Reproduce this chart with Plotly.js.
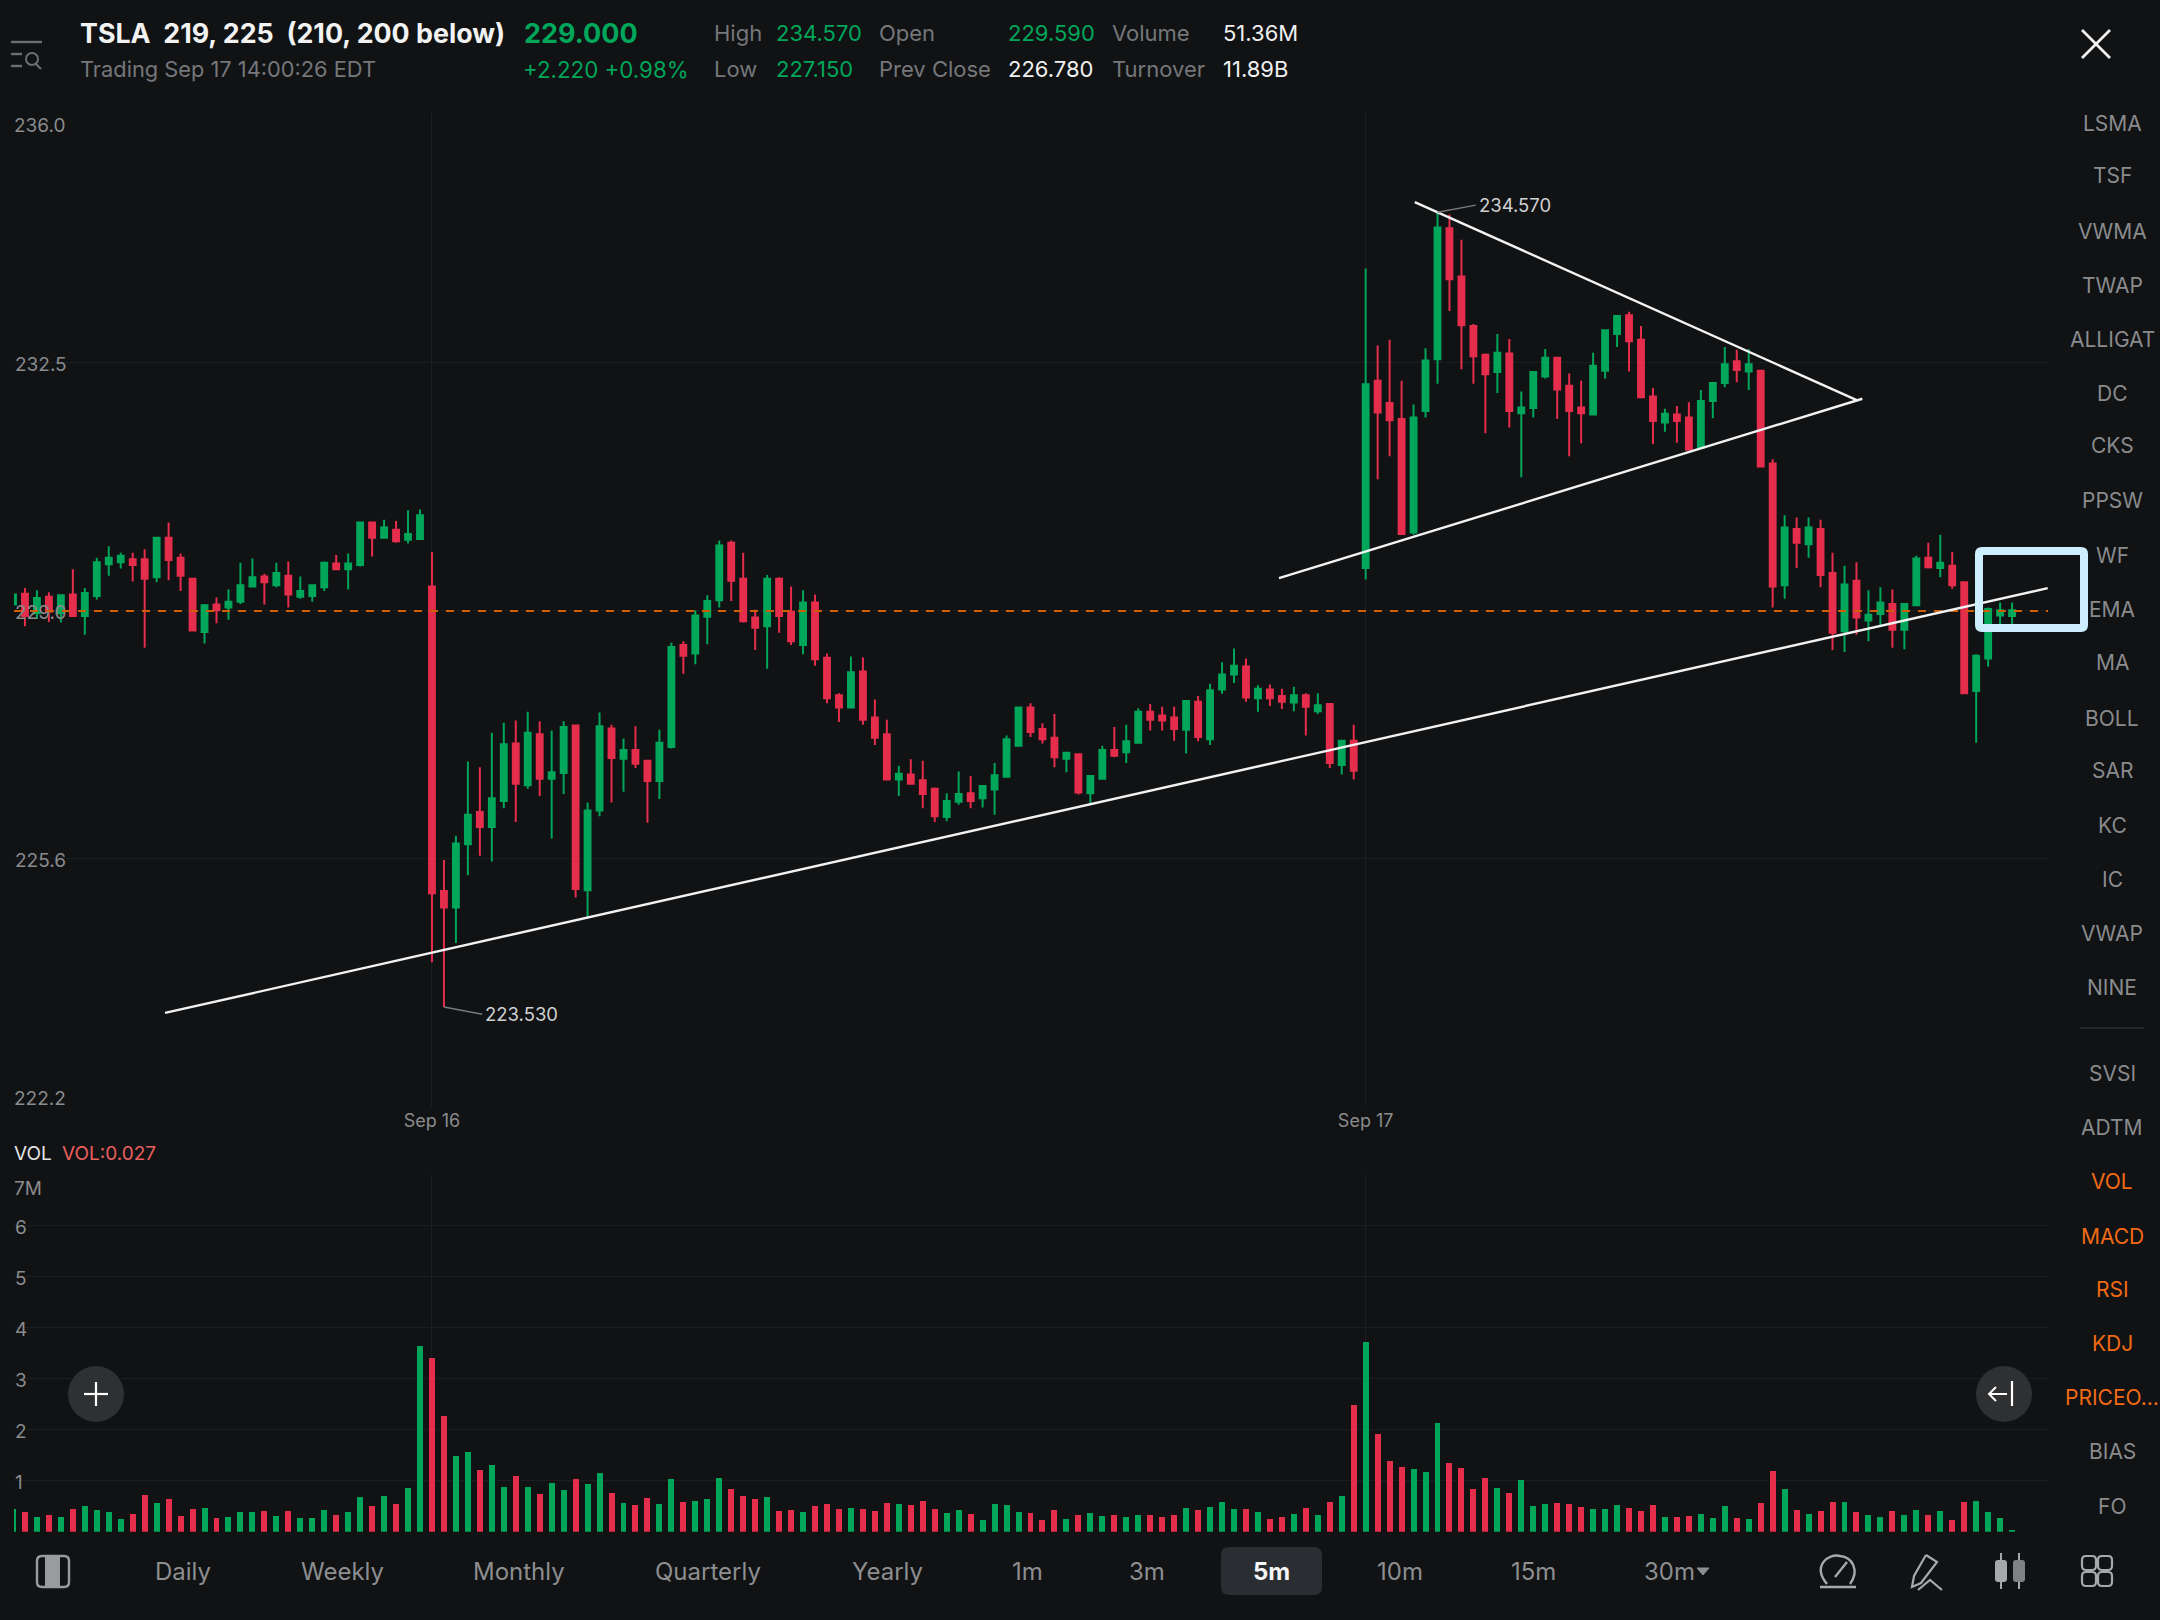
<!DOCTYPE html>
<html><head><meta charset="utf-8">
<script src="https://cdn.plot.ly/plotly-3.0.1.min.js"></script>
<style>html,body{margin:0;padding:0;background:#101214}#c{width:2160px;height:1620px}</style>
</head><body><div id="c"></div>
<script>
const opens=[229.12,229.27,229.00,229.23,229.00,229.26,228.96,229.24,229.68,229.71,
229.75,229.75,229.50,230.05,229.77,229.48,228.74,229.12,229.08,229.16,
229.37,229.51,229.39,229.52,229.23,229.24,229.36,229.69,229.61,229.67,
230.26,230.05,230.16,230.02,230.03,229.37,225.14,224.91,225.79,226.24,
226.03,226.39,227.19,226.61,227.32,226.70,226.78,227.44,225.15,226.26,
227.40,226.98,227.10,226.95,226.67,227.14,228.56,228.44,228.95,229.18,
229.98,229.48,228.94,228.82,229.48,229.02,228.56,229.15,228.38,227.86,
227.69,228.19,227.55,227.32,226.69,226.76,226.68,226.56,226.17,226.38,
226.50,226.43,226.55,226.73,227.16,227.69,227.39,227.27,226.98,227.04,
226.50,226.70,227.10,227.07,227.20,227.63,227.58,227.55,227.38,227.77,
227.25,227.94,228.15,228.26,227.82,227.94,227.85,227.76,227.86,227.64,
227.74,226.89,227.23,229.63,232.23,231.92,231.70,230.12,231.81,232.53,
234.35,233.68,232.99,232.59,232.35,232.61,231.78,231.85,232.29,232.55,
232.16,231.86,231.76,232.37,232.88,233.14,232.80,232.01,231.65,231.76,
231.72,231.30,231.95,232.20,232.50,232.36,232.37,231.08,229.39,230.17,
229.96,230.17,229.56,228.75,229.45,228.90,228.99,229.13,228.77,229.11,
229.77,229.63,229.66,229.43,227.92,228.37,228.97,228.96];
const closes=[229.26,228.96,229.21,229.02,229.25,228.96,229.28,229.71,229.77,229.80,
229.67,229.48,230.05,229.74,229.52,228.76,229.11,229.04,229.16,229.39,
229.50,229.43,229.56,229.26,229.31,229.39,229.70,229.61,229.69,230.26,
230.05,230.19,230.00,230.10,230.36,225.11,224.91,225.80,226.20,226.03,
226.43,227.18,226.63,227.34,226.70,226.79,227.42,225.17,226.26,227.43,
226.99,227.10,226.91,226.67,227.20,228.53,228.41,228.97,229.17,229.94,
229.45,228.89,228.80,229.48,228.96,228.61,229.15,228.36,227.82,227.69,
228.18,227.52,227.27,226.69,226.77,226.63,226.49,226.18,226.39,226.49,
226.39,226.60,226.75,227.25,227.69,227.35,227.25,227.00,227.06,226.51,
226.74,227.10,227.02,227.22,227.63,227.52,227.51,227.39,227.78,227.28,
227.93,228.15,228.27,227.83,227.95,227.82,227.77,227.86,227.70,227.72,
226.92,227.23,226.81,232.18,231.79,231.68,230.10,231.72,232.51,234.36,
233.64,233.00,232.57,232.32,232.62,231.81,231.86,232.35,232.55,232.11,
231.81,231.78,232.44,232.93,233.13,232.78,232.00,231.67,231.77,231.67,
231.27,231.95,232.20,232.46,232.38,232.46,231.04,229.37,230.19,229.98,
230.19,229.53,228.73,229.40,228.94,228.98,229.15,228.77,229.13,229.76,
229.64,229.70,229.39,227.89,228.41,229.06,229.04,229.04];
const highs=[229.40,229.35,229.32,229.29,229.25,229.61,229.35,229.77,229.93,229.84,
229.84,229.89,230.05,230.26,229.83,229.48,229.13,229.22,229.33,229.70,
229.76,229.55,229.70,229.72,229.51,229.39,229.72,229.81,229.83,230.26,
230.26,230.30,230.28,230.43,230.44,229.85,225.57,225.91,226.94,226.86,
227.34,227.48,227.51,227.63,227.50,227.37,227.50,227.45,226.37,227.62,
227.45,227.26,227.43,226.95,227.38,228.59,228.61,229.04,229.25,230.01,
230.01,229.84,229.05,229.53,229.50,229.37,229.32,229.26,228.44,227.89,
228.40,228.39,227.80,227.52,226.88,226.97,226.95,226.58,226.50,226.80,
226.74,226.61,226.92,227.30,227.70,227.75,227.47,227.60,227.07,227.05,
226.74,227.16,227.42,227.45,227.68,227.74,227.70,227.70,227.79,227.85,
228.02,228.32,228.51,228.37,228.00,228.01,227.95,227.98,227.89,227.89,
227.74,227.23,227.45,233.79,232.72,232.80,232.23,231.90,232.68,234.57,
234.54,234.19,233.02,232.61,232.88,232.81,232.08,232.35,232.67,232.55,
232.33,232.23,232.62,232.93,233.14,233.19,232.99,232.13,231.84,231.88,
231.93,232.10,232.20,232.70,232.66,232.67,232.37,231.14,230.36,230.33,
230.33,230.30,229.84,229.66,229.71,229.32,229.36,229.33,229.13,229.80,
229.98,230.09,229.85,229.43,228.43,229.08,229.15,229.15];
const lows=[229.12,228.82,228.92,228.88,228.87,228.96,228.70,229.19,229.52,229.62,
229.44,228.52,229.43,229.46,229.31,228.75,228.58,228.86,228.91,229.13,
229.37,229.12,229.36,229.08,229.20,229.16,229.31,229.61,229.33,229.65,
229.79,230.05,229.98,229.97,230.02,224.15,223.53,224.42,225.36,225.63,
225.55,226.29,226.10,226.56,226.46,225.87,226.49,225.05,224.78,226.18,
226.37,226.52,226.85,226.09,226.42,227.12,228.16,228.29,228.57,229.08,
229.17,228.87,228.49,228.23,228.73,228.56,228.43,228.27,227.75,227.49,
227.69,227.45,227.17,226.69,226.46,226.63,226.29,226.10,226.11,226.34,
226.29,226.30,226.20,226.73,227.15,227.28,227.19,226.86,226.79,226.48,
226.36,226.70,227.00,226.92,227.20,227.37,227.37,227.23,227.05,227.22,
227.17,227.88,228.03,227.77,227.63,227.71,227.67,227.64,227.30,227.60,
226.85,226.76,226.69,229.47,230.86,231.18,230.10,230.09,231.72,232.19,
233.20,232.39,232.19,231.50,232.06,231.58,230.89,231.72,232.26,231.70,
231.18,231.36,231.76,232.26,232.70,232.36,232.00,231.35,231.52,231.37,
231.27,231.30,231.71,232.14,232.21,232.10,231.04,229.08,229.20,229.63,
229.77,229.36,228.49,228.46,228.70,228.61,228.83,228.52,228.50,229.11,
229.62,229.50,229.34,227.89,227.20,228.26,228.85,228.85];
const volumes=[.44,.39,.28,.33,.28,.44,.50,.42,.39,.24,
.34,.72,.56,.64,.31,.44,.47,.27,.29,.38,
.39,.41,.31,.41,.26,.26,.42,.33,.38,.67,
.50,.69,.54,.86,3.63,3.40,2.26,1.48,1.57,1.20,
1.31,.87,1.09,.87,.74,.95,.82,1.03,.93,1.15,
.76,.56,.52,.66,.54,1.03,.58,.60,.65,1.05,
.84,.70,.64,.67,.41,.42,.39,.50,.54,.44,
.46,.44,.41,.56,.54,.52,.60,.44,.37,.42,
.35,.23,.54,.52,.39,.36,.23,.42,.25,.33,
.36,.31,.32,.29,.32,.33,.29,.33,.46,.42,
.48,.58,.44,.44,.39,.24,.29,.34,.46,.33,
.59,.69,2.48,3.72,1.92,1.38,1.26,1.23,1.17,2.12,
1.35,1.25,.84,1.05,.85,.76,1.01,.50,.54,.56,
.54,.48,.44,.44,.52,.46,.41,.52,.28,.29,
.31,.35,.27,.50,.27,.25,.57,1.18,.83,.42,
.35,.40,.59,.58,.39,.32,.29,.40,.33,.42,
.33,.41,.23,.58,.60,.39,.27,.03];
const dayTickIndex=[35,113];
const dayTickLabels=['Sep 16','Sep 17'];
const priceGridValues=[232.49,229.04,225.59,235.95,222.14];
const priceGridLabels=['232.5','229.0','225.6','',''];
const volGridValues=[1,2,3,4,5,6,7,0];
const volGridLabels=['1','2','3','4','5','6','',''];
const lastPriceLine=229.03;
const supportLine={x:[12.70,169.98],y:[223.447,229.348]};
const triangleLow={x:[105.76,154.49],y:[229.487,231.98]};
const triangleHigh={x:[117.1,154.02],y:[234.713,231.96]};
const highLabel={x:[119,122.2],y:[234.57,234.67],text:'234.570'};
const lowLabel={x:[36,39.2],y:[223.53,223.43],text:'223.530'};
const sideTop=['LSMA','TSF','VWMA','TWAP','ALLIGAT','DC','CKS','PPSW','WF','EMA','MA','BOLL','SAR','KC','IC','VWAP','NINE'];
const sideBottom=['SVSI','ADTM','VOL','MACD','RSI','KDJ','PRICEO...','BIAS','FO'];
const sideOrange=['VOL','MACD','RSI','KDJ','PRICEO...'];
const periods=['Daily','Weekly','Monthly','Quarterly','Yearly','1m','3m','5m','10m','15m','30m'];

const W=2160,H=1620,FONT='Inter, "Noto Sans", sans-serif';
const GREEN='#00A65A',RED='#E52D4C',BG='#101214',GRID='#1b1e21',GRAY='#8a8b8d',DIM='#75777a';
const px=x=>x/W, py=y=>1-y/H;
const idx=opens.map((_,i)=>i);
const barColors=opens.map((o,i)=>closes[i]>=o?GREEN:RED);

const anns=[];
function T(x,y,text,o={}){anns.push({xref:'paper',yref:'paper',x:px(x),y:py(y),text:o.bold?'<b>'+text+'</b>':text,showarrow:false,
 xanchor:o.a||'left',yanchor:'middle',borderpad:0,font:{family:FONT,size:o.s||20,color:o.c||GRAY}});}
const shapes=[];
function line(pts,color,w,fill){const d='M'+pts.map(p=>px(p[0])+','+py(p[1])).join('L')+(fill?'Z':'');
 shapes.push({type:'path',xref:'paper',yref:'paper',path:d,line:{color:color,width:w},fillcolor:fill||'rgba(0,0,0,0)',layer:'above'});}
function box(x0,y0,x1,y1,fill,lc,w){shapes.push({type:'rect',xref:'paper',yref:'paper',x0:px(x0),x1:px(x1),y0:py(y0),y1:py(y1),fillcolor:fill||'rgba(0,0,0,0)',line:{color:lc||'rgba(0,0,0,0)',width:w||0},layer:'above'});}
function disc(cx,cy,r,fill,lc,w){shapes.push({type:'circle',xref:'paper',yref:'paper',x0:px(cx-r),x1:px(cx+r),y0:py(cy-r),y1:py(cy+r),fillcolor:fill||'rgba(0,0,0,0)',line:{color:lc||'rgba(0,0,0,0)',width:w||0},layer:'above'});}
function rrect(x0,y0,x1,y1,r,fill,lc,w){const a=px,b=py;
 const d=`M${a(x0+r)},${b(y0)}L${a(x1-r)},${b(y0)}Q${a(x1)},${b(y0)} ${a(x1)},${b(y0+r)}L${a(x1)},${b(y1-r)}Q${a(x1)},${b(y1)} ${a(x1-r)},${b(y1)}L${a(x0+r)},${b(y1)}Q${a(x0)},${b(y1)} ${a(x0)},${b(y1-r)}L${a(x0)},${b(y0+r)}Q${a(x0)},${b(y0)} ${a(x0+r)},${b(y0)}Z`;
 shapes.push({type:'path',xref:'paper',yref:'paper',path:d,fillcolor:fill||'rgba(0,0,0,0)',line:{color:lc||'rgba(0,0,0,0)',width:w||0},layer:'above'});}

/* chart overlays tied to data */
function dataLine(s,color,w){shapes.push({type:'line',xref:'x',yref:'y',x0:s.x[0],x1:s.x[1],y0:s.y[0],y1:s.y[1],line:{color:color,width:w},layer:'above'});}
shapes.push({type:'line',xref:'paper',yref:'y',x0:px(14),x1:px(2048),y0:lastPriceLine,y1:lastPriceLine,line:{color:'#CC5E08',width:2,dash:'8px,8px'},layer:'above'});
dataLine(supportLine,'#f2f2f2',2.4);dataLine(triangleLow,'#f2f2f2',2.4);dataLine(triangleHigh,'#f2f2f2',2.4);
dataLine(highLabel,'#77797b',1.5);dataLine(lowLabel,'#77797b',1.5);
[highLabel,lowLabel].forEach(l=>anns.push({xref:'x',yref:'y',x:l.x[1]+.15,y:l.y[1],text:l.text,showarrow:false,xanchor:'left',yanchor:'middle',borderpad:0,font:{family:FONT,size:18.5,color:'#cfd0d1'}}));

/* highlight box */
rrect(1979,551,2084,628,3,null,'#CDEEFF',8);

/* axis labels at panel edges */
T(13,126,'236.0',{s:19});T(13,1098,'222.2',{s:19});T(13,1188,'7M',{s:19});
T(13,1153,'VOL',{s:19,c:'#e2e3e4'});T(61,1153,'VOL:0.027',{s:19,c:'#E8605F'});

/* header */
T(79,33,'TSLA  219, 225  (210, 200 below)',{s:26.8,c:'#f2f2f2',bold:true});
T(523,33,'229.000',{s:27,c:GREEN,bold:true});
T(79,69,'Trading Sep 17 14:00:26 EDT',{s:21.8,c:DIM});
T(522,69,'+2.220 +0.98%',{s:22.3,c:GREEN});
T(713,33,'High',{s:22,c:DIM});T(775,33,'234.570',{s:22,c:GREEN});
T(713,69,'Low',{s:22,c:DIM});T(775,69,'227.150',{s:22,c:GREEN});
T(878,33,'Open',{s:22,c:DIM});T(1007,33,'229.590',{s:22,c:GREEN});
T(878,69,'Prev Close',{s:22,c:DIM});T(1007,69,'226.780',{s:22,c:'#f0f0f0'});
T(1111,33,'Volume',{s:22,c:DIM});T(1222,33,'51.36M',{s:22,c:'#f0f0f0'});
T(1111,69,'Turnover',{s:22,c:DIM});T(1222,69,'11.89B',{s:22,c:'#f0f0f0'});

/* side list */
const sideTopY=[123,176,231,285,339,393,446,501,555,609,663,718,771,825,879,933,988];
const sideBottomY=[1073,1127,1181,1236,1289,1343,1397,1451,1506];
sideTop.forEach((t,i)=>T(2112,sideTopY[i],t,{s:21,a:'center'}));
sideBottom.forEach((t,i)=>T(2112,sideBottomY[i],t,{s:21,a:'center',c:sideOrange.includes(t)?'#F26A14':GRAY}));
line([[2080,1028],[2144,1028]],'#2a2c2f',1.5);

/* bottom bar */
rrect(1221,1547,1322,1595,8,'#2a2d31');
const periodX=[183,342,519,708,887,1027,1147,1271,1400,1533,1669];
periods.forEach((t,i)=>T(periodX[i],1571,t,{s:24,a:'center',c:t==='5m'?'#f5f5f5':'#8d8e90',bold:t==='5m'}));
line([[1697,1568],[1709,1568],[1703,1575]],'#8d8e90',1,'#8d8e90');

/* icons */
line([[2082,30],[2110,58]],'#f2f2f2',2.6);line([[2110,30],[2082,58]],'#f2f2f2',2.6);
line([[11,42],[42,42]],'#6b6d70',2.4);line([[11,54],[22,54]],'#6b6d70',2.4);line([[11,66],[22,66]],'#6b6d70',2.4);
disc(32,59,6,null,'#6b6d70',2);line([[36,64],[41,69]],'#6b6d70',2.2);
disc(96,1394,28,'#2e3032');line([[84,1394],[108,1394]],'#fff',2.2);line([[96,1382],[96,1406]],'#fff',2.2);
disc(2004,1394,28,'#2e3032');line([[2012,1381],[2012,1406]],'#fff',2.2);line([[1989,1394],[2007,1394]],'#fff',2);line([[1996,1387],[1989,1394],[1996,1401]],'#fff',2);
rrect(37,1556,69,1587,5,null,'#999b9d',2.4);box(45,1556,60,1587,'#999b9d');
/* gauge */
shapes.push({type:'path',xref:'paper',yref:'paper',layer:'above',line:{color:'#a6a8aa',width:2.4},
 path:`M${px(1827)},${py(1584)}C${px(1812)},${py(1566)} ${px(1828)},${py(1553)} ${px(1840)},${py(1556)}C${px(1852)},${py(1557)} ${px(1860)},${py(1570)} ${px(1850)},${py(1584)}`});
line([[1820,1587],[1856,1587]],'#a6a8aa',2.4);line([[1835,1577],[1847,1562]],'#a6a8aa',2.4);
/* pen */
line([[1926,1555],[1937,1562],[1921,1583],[1912,1587],[1914,1576],[1926,1555]],'#a6a8aa',2.2);
line([[1918,1590],[1930,1580],[1942,1590]],'#a6a8aa',2.2);
/* candles */
line([[2001,1553],[2001,1589]],'#a6a8aa',2);rrect(1995,1560,2007,1582,3,'#a6a8aa');
line([[2019,1553],[2019,1589]],'#a6a8aa',2);rrect(2013,1560,2025,1582,3,'#7f8183');
/* grid */
[[2089,1563],[2105,1563],[2089,1579],[2105,1579]].forEach(c=>rrect(c[0]-7,c[1]-7,c[0]+7,c[1]+7,4,null,'#a6a8aa',2.2));

const traces=[
 {type:'candlestick',x:idx,open:opens,high:highs,low:lows,close:closes,xaxis:'x',yaxis:'y',width:0.334,whiskerwidth:0,hoverinfo:'skip',
  increasing:{line:{color:GREEN,width:2},fillcolor:GREEN},decreasing:{line:{color:RED,width:2},fillcolor:RED}},
 {type:'bar',x:idx,y:volumes,xaxis:'x2',yaxis:'y2',width:0.5,marker:{color:barColors,line:{width:0}},hoverinfo:'skip'}
];
const gridAxis={showline:false,zeroline:false,ticks:'',gridcolor:GRID,gridwidth:1};
const layout={width:W,height:H,margin:{l:0,r:0,t:0,b:0,pad:0},paper_bgcolor:BG,plot_bgcolor:BG,showlegend:false,bargap:0,
 font:{family:FONT},hovermode:false,
 xaxis:Object.assign({},gridAxis,{domain:[px(14),px(2048)],range:[0.084,170],anchor:'y',tickmode:'array',tickvals:dayTickIndex,ticktext:dayTickLabels,
   rangeslider:{visible:false},showgrid:true,ticklabelstandoff:1,tickfont:{family:FONT,size:18,color:GRAY}}),
 yaxis:Object.assign({},gridAxis,{domain:[py(1107),py(113)],range:[222.14,235.95],anchor:'x',tickmode:'array',tickvals:priceGridValues,ticktext:priceGridLabels,
   ticklabelposition:'inside',ticklabelstandoff:-2,ticklabelshift:2,tickfont:{family:FONT,size:19,color:GRAY},showgrid:true}),
 xaxis2:Object.assign({},gridAxis,{domain:[px(14),px(2048)],range:[0.084,170],anchor:'y2',tickmode:'array',tickvals:dayTickIndex,showticklabels:false,showgrid:true}),
 yaxis2:Object.assign({},gridAxis,{domain:[py(1531.7),py(1174.3)],range:[0,7],anchor:'x2',tickmode:'array',tickvals:volGridValues,ticktext:volGridLabels,
   ticklabelposition:'inside',ticklabelstandoff:-2,ticklabelshift:2,tickfont:{family:FONT,size:19,color:GRAY},showgrid:true}),
 shapes:shapes,annotations:anns
};
Plotly.newPlot('c',traces,layout,{displayModeBar:false,staticPlot:true,responsive:false});
</script></body></html>
